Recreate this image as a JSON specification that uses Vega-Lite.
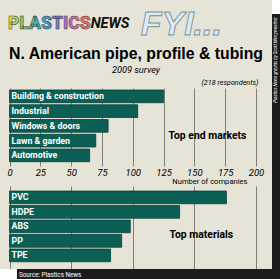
{
  "$schema": "https://vega.github.io/schema/vega-lite/v6.json",
  "background": "#e5e4d6",
  "padding": 0,
  "spacing": 0,
  "config": {"view": {"stroke": null}, "concat": {"spacing": 0}, "font": "Roboto"},
  "datasets": {
    "logo": [{"part": "PLASTICS"}, {"part": "NEWS"}, {"part": "FYI..."}],
    "markets": [
      {"market": "Building & construction", "companies": 125},
      {"market": "Industrial", "companies": 104},
      {"market": "Windows & doors", "companies": 80},
      {"market": "Lawn & garden", "companies": 70},
      {"market": "Automotive", "companies": 65}
    ],
    "materials": [
      {"material": "PVC", "companies": 176},
      {"material": "HDPE", "companies": 138},
      {"material": "ABS", "companies": 98},
      {"material": "PP", "companies": 91},
      {"material": "TPE", "companies": 82}
    ],
    "notes": [{"note": "Source: Plastics News"}],
    "credit": [{"note": "Plastics News graphic by Scott Merryweather"}]
  },
  "hconcat": [
    {
      "spacing": 0,
      "vconcat": [
        {
          "width": 272,
          "height": 46,
          "data": {"name": "logo"},
          "layer": [
            {
              "transform": [{"filter": "datum.part === 'PLASTICS'"}],
              "mark": {"type": "text", "align": "right", "baseline": "middle", "dy": 1, "font": "Roboto", "fontWeight": 900, "fontSize": 17.5,
                "fill": {"gradient": "linear", "x1": 0, "y1": 0, "x2": 1, "y2": 0, "stops": [
                  {"offset": 0, "color": "#e6df45"}, {"offset": 0.18, "color": "#8cc84b"}, {"offset": 0.36, "color": "#3fb0b8"},
                  {"offset": 0.52, "color": "#4a86d6"}, {"offset": 0.68, "color": "#9a6fd0"}, {"offset": 0.84, "color": "#e76aa0"}, {"offset": 1, "color": "#ee6a3a"}]},
                "stroke": "#3a3a3a", "strokeWidth": 0.5},
              "encoding": {
                "x": {"field": "part", "type": "nominal", "bandPosition": 1, "scale": {"type": "band", "domain": ["PLASTICS", "NEWS", "FYI..."], "paddingInner": 0, "paddingOuter": 0}, "axis": null},
                "text": {"field": "part"}
              }
            },
            {
              "transform": [{"filter": "datum.part === 'NEWS'"}],
              "mark": {"type": "text", "align": "left", "baseline": "middle", "dy": 1, "font": "Roboto", "fontWeight": "bold", "fontStyle": "italic", "fontSize": 14.5, "color": "#111111"},
              "encoding": {
                "x": {"field": "part", "type": "nominal", "bandPosition": 0, "scale": {"type": "band", "domain": ["PLASTICS", "NEWS", "FYI..."], "paddingInner": 0, "paddingOuter": 0}, "axis": null},
                "text": {"field": "part"}
              }
            },
            {
              "transform": [{"filter": "datum.part === 'FYI...'"}],
              "mark": {"type": "text", "align": "center", "baseline": "middle", "dy": 2, "font": "Liberation Sans", "fontWeight": "bold", "fontStyle": "italic", "fontSize": 34, "fill": "#d8ecf6", "stroke": "#7f8d98", "strokeWidth": 0.9},
              "encoding": {
                "x": {"field": "part", "type": "nominal", "bandPosition": 0, "scale": {"type": "band", "domain": ["PLASTICS", "NEWS", "FYI..."], "paddingInner": 0, "paddingOuter": 0}, "axis": null},
                "text": {"field": "part"}
              }
            }
          ]
        },
        {
          "width": 272,
          "height": 78,
          "title": {
            "text": "N. American pipe, profile & tubing",
            "subtitle": "2009 survey",
            "anchor": "middle",
            "font": "Liberation Sans", "fontSize": 15.8, "fontWeight": "bold", "color": "#000000",
            "subtitleFont": "Roboto", "subtitleFontSize": 9.2, "subtitleFontStyle": "italic", "subtitleColor": "#000000",
            "subtitlePadding": 3, "offset": 2
          },
          "data": {"name": "markets"},
          "resolve": {"axis": {"x": "independent"}},
          "layer": [
            {
              "mark": {"type": "bar", "fill": "#0c5f55", "stroke": "#083f39", "strokeWidth": 0.8},
              "encoding": {
                "x": {"field": "companies", "type": "quantitative", "title": null,
                  "scale": {"domain": [-7.708, 212.98], "nice": false, "zero": false},
                  "axis": {"orient": "bottom", "values": [0, 25, 50, 75, 100, 125, 150, 175, 200], "grid": true, "gridColor": "#7f7f78", "gridWidth": 1, "gridOpacity": 1,
                    "ticks": false, "domain": false, "labelFont": "Roboto", "labelFontStyle": "italic", "labelFontSize": 9.5, "labelColor": "#000000",
                    "labelPadding": 1, "labelFlush": false, "labelOverlap": false,
                    "title": "Number of companies", "titleFont": "Roboto", "titleFontSize": 7.6, "titleFontWeight": "normal", "titleColor": "#000000",
                    "titlePadding": 1, "titleX": 247, "titleAlign": "right"}},
                "y": {"field": "market", "type": "nominal", "sort": ["Building & construction", "Industrial", "Windows & doors", "Lawn & garden", "Automotive"],
                  "scale": {"paddingInner": 0.14, "paddingOuter": 0.214, "align": 0.32}, "axis": null}
              }
            },
            {
              "mark": {"type": "text", "align": "left", "baseline": "middle", "dx": 2, "font": "Roboto", "fontWeight": "bold", "fontSize": 8.8, "color": "#ffffff"},
              "encoding": {
                "x": {"datum": 0, "type": "quantitative", "title": null,
                  "scale": {"domain": [-7.708, 212.98], "nice": false, "zero": false},
                  "axis": {"orient": "top", "labels": false, "ticks": false, "domain": false, "grid": false,
                    "title": "(218 respondents)", "titleFont": "Roboto", "titleFontStyle": "italic", "titleFontSize": 7.2, "titleFontWeight": "normal",
                    "titleColor": "#000000", "titleX": 258, "titleAlign": "right", "titlePadding": 2}},
                "y": {"field": "market", "type": "nominal", "sort": ["Building & construction", "Industrial", "Windows & doors", "Lawn & garden", "Automotive"], "axis": null},
                "text": {"field": "market"}
              }
            },
            {
              "data": {"values": [{"panel": "Top end markets"}]},
              "mark": {"type": "text", "align": "center", "baseline": "middle", "dy": -5, "font": "Roboto", "fontWeight": "bold", "fontSize": 10.4, "color": "#000000"},
              "encoding": {
                "x": {"datum": 160.6, "type": "quantitative", "title": null, "scale": {"domain": [-7.708, 212.98], "nice": false, "zero": false}, "axis": null},
                "y": {"datum": "Lawn & garden", "type": "nominal", "axis": null},
                "text": {"field": "panel"}
              }
            }
          ]
        },
        {
          "width": 272,
          "height": 83,
          "data": {"name": "materials"},
          "layer": [
            {
              "mark": {"type": "bar", "fill": "#0c5f55", "stroke": "#083f39", "strokeWidth": 0.8},
              "encoding": {
                "x": {"field": "companies", "type": "quantitative", "title": null,
                  "scale": {"domain": [-7.708, 212.98], "nice": false, "zero": false},
                  "axis": {"values": [0, 25, 50, 75, 100, 125, 150, 175, 200], "grid": true, "gridColor": "#7f7f78", "gridWidth": 1, "gridOpacity": 1,
                    "labels": false, "ticks": false, "domain": false, "title": null}},
                "y": {"field": "material", "type": "nominal", "sort": ["PVC", "HDPE", "ABS", "PP", "TPE"],
                  "scale": {"paddingInner": 0.124, "paddingOuter": 0.424, "align": 0.41}, "axis": null}
              }
            },
            {
              "mark": {"type": "text", "align": "left", "baseline": "middle", "dx": 2, "font": "Roboto", "fontWeight": "bold", "fontSize": 8.8, "color": "#ffffff"},
              "encoding": {
                "x": {"datum": 0, "type": "quantitative", "title": null, "scale": {"domain": [-7.708, 212.98], "nice": false, "zero": false}},
                "y": {"field": "material", "type": "nominal", "sort": ["PVC", "HDPE", "ABS", "PP", "TPE"]},
                "text": {"field": "material"}
              }
            },
            {
              "data": {"values": [{"panel": "Top materials"}]},
              "mark": {"type": "text", "align": "center", "baseline": "middle", "dy": -6, "font": "Roboto", "fontWeight": "bold", "fontSize": 10.4, "color": "#000000"},
              "encoding": {
                "x": {"datum": 155.6, "type": "quantitative", "title": null, "scale": {"domain": [-7.708, 212.98], "nice": false, "zero": false}},
                "y": {"datum": "PP", "type": "nominal"},
                "text": {"field": "panel"}
              }
            }
          ]
        },
        {
          "spacing": 0,
          "hconcat": [
            {"width": 17, "height": 11, "view": {"fill": "#ffffff", "stroke": null}, "data": {"values": []}, "mark": "text"},
            {
              "width": 255, "height": 11, "view": {"fill": "#1e1b1c", "stroke": null},
              "data": {"name": "notes"},
              "mark": {"type": "text", "align": "left", "baseline": "middle", "dx": 2, "font": "Roboto", "fontSize": 6.3, "color": "#ffffff"},
              "encoding": {
                "x": {"field": "note", "type": "nominal", "bandPosition": 0, "scale": {"type": "band", "paddingInner": 0, "paddingOuter": 0}, "axis": null},
                "text": {"field": "note"}
              }
            }
          ]
        }
      ]
    },
    {
      "spacing": 0,
      "vconcat": [
        {"width": 8, "height": 14, "view": {"fill": "#ffffff", "stroke": null}, "data": {"values": []}, "mark": "text"},
        {
          "width": 8, "height": 265, "view": {"fill": "#1e1b1c", "stroke": null},
          "data": {"name": "credit"},
          "mark": {"type": "text", "angle": 270, "align": "right", "baseline": "middle", "dx": -3, "font": "Roboto", "fontStyle": "italic", "fontSize": 4.4, "color": "#ffffff"},
          "encoding": {
            "y": {"field": "note", "type": "nominal", "bandPosition": 0, "scale": {"type": "band", "paddingInner": 0, "paddingOuter": 0}, "axis": null},
            "text": {"field": "note"}
          }
        }
      ]
    }
  ]
}
